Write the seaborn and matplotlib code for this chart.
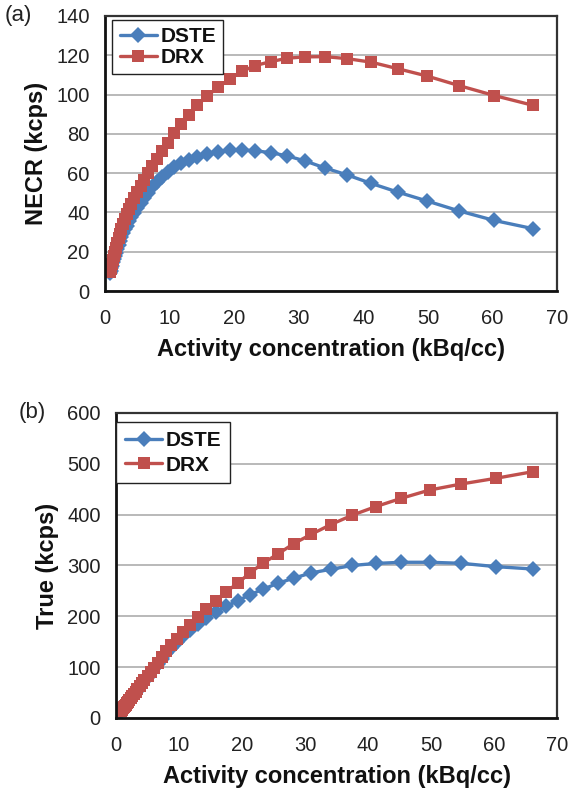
import numpy as np
import pandas as pd
import matplotlib
matplotlib.use("Agg")
import matplotlib.pyplot as plt
import seaborn as sns
from matplotlib.lines import Line2D

# Activity concentration of each acquisition frame (kBq/cc)
activity = [0.8, 0.9, 1.0, 1.1, 1.25, 1.4, 1.55, 1.7, 1.9, 2.1, 2.3, 2.55, 2.8,
            3.1, 3.4, 3.75, 4.1, 4.5, 5.0, 5.5, 6.0, 6.6, 7.3, 8.0, 8.8, 9.7,
            10.7, 11.8, 13.0, 14.3, 15.8, 17.5, 19.3, 21.2, 23.3, 25.7, 28.2,
            31.0, 34.1, 37.5, 41.2, 45.3, 49.8, 54.8, 60.3, 66.2]

# NECR (kcps)
necr_dste = [9.0, 10.3, 11.6, 12.8, 14.6, 16.3, 18.0, 19.6, 21.6, 23.5, 25.3,
             27.5, 29.5, 31.4, 33.2, 35.4, 37.5, 39.8, 42.5, 45.0, 47.3, 49.9,
             52.7, 55.3, 58.0, 60.5, 62.9, 65.0, 66.8, 68.4, 69.8, 70.9, 71.6,
             71.8, 71.4, 70.4, 68.8, 66.2, 62.6, 59.1, 54.8, 50.4, 45.9, 40.8,
             35.9, 31.8]
necr_drx = [9.5, 11.0, 12.5, 14.0, 16.0, 18.0, 20.0, 22.0, 24.5, 26.8, 29.0,
            31.6, 34.0, 36.5, 39.0, 41.8, 44.3, 47.2, 50.5, 53.6, 56.6, 60.0,
            63.8, 67.4, 71.3, 75.6, 80.2, 85.0, 89.8, 94.5, 99.2, 103.7, 107.8,
            111.8, 114.8, 116.8, 118.5, 119.2, 119.3, 118.3, 116.5, 113.2,
            109.5, 104.6, 99.5, 94.6]

# True coincidence rate (kcps)
true_dste = [14.0, 15.7, 17.4, 19.2, 21.7, 24.2, 26.6, 29.0, 31.8, 35.0, 38.5,
             42.5, 46.5, 51.3, 56.2, 61.8, 67.4, 73.8, 81.5, 89.5, 97.5, 106.5,
             117.0, 127.5, 138.5, 150.0, 161.0, 173.0, 185.5, 197.0, 208.0,
             219.5, 230.8, 242.0, 253.2, 265.0, 275.0, 285.5, 292.5, 300.0,
             304.0, 306.3, 306.3, 304.3, 297.7, 293.0]
true_drx = [13.8, 15.5, 17.2, 19.0, 21.5, 24.0, 26.5, 29.0, 32.0, 35.5, 39.0,
            43.0, 47.0, 52.0, 57.0, 63.0, 68.5, 75.0, 83.0, 91.0, 99.0, 108.5,
            120.5, 131.5, 143.5, 156.0, 169.0, 182.5, 198.0, 215.0, 231.0,
            248.5, 265.0, 284.7, 304.3, 322.6, 343.0, 361.4, 380.5, 399.0,
            415.7, 432.2, 448.5, 460.3, 471.5, 484.6]

methods = ["DSTE", "DRX"]
colors = {"DSTE": "#4A7EBB", "DRX": "#C0504D"}
markers = {"DSTE": "D", "DRX": "s"}
msize = {"DSTE": 8.5, "DRX": 8.5}

n = len(activity)
df = pd.DataFrame({
    "activity": activity * 2,
    "necr": necr_dste + necr_drx,
    "true": true_dste + true_drx,
    "method": ["DSTE"] * n + ["DRX"] * n,
})

sns.set_theme(style="white")
plt.rcParams["font.family"] = ["Liberation Sans", "DejaVu Sans"]

fig = plt.figure(figsize=(5.69, 7.96), dpi=100)
ax_a = fig.add_axes([0.1845, 0.6344, 0.7945, 0.3455])
ax_b = fig.add_axes([0.2039, 0.0980, 0.7751, 0.3832])


def draw(ax, ycol, ymax, ystep, ylabel, tag, tag_x, leg_anchor,
         leg_spacing, leg_pad):
    sns.lineplot(data=df, x="activity", y=ycol, hue="method", style="method",
                 hue_order=methods, style_order=methods, palette=colors,
                 markers=markers, dashes=False, linewidth=2.4, markersize=8.5,
                 markeredgewidth=0, sort=True, legend=False, ax=ax)
    ax.set_xlim(0, 70)
    ax.set_ylim(0, ymax)
    ax.set_xticks(np.arange(0, 71, 10))
    ax.set_yticks(np.arange(0, ymax + 1, ystep))
    ax.yaxis.grid(True, color="#A6A6A6", linewidth=1.1)
    ax.xaxis.grid(False)
    ax.set_axisbelow(True)
    ax.tick_params(axis="both", direction="in", length=5, width=1.5,
                   labelsize=14.5, colors="#222222")
    ax.tick_params(axis="x", pad=13)
    ax.tick_params(axis="y", pad=11)
    for side in ["left", "bottom"]:
        ax.spines[side].set_color("#111111")
        ax.spines[side].set_linewidth(2.0)
    for side in ["top", "right"]:
        ax.spines[side].set_color("#333333")
        ax.spines[side].set_linewidth(1.6)
    ax.set_xlabel("Activity concentration (kBq/cc)", fontsize=17,
                  fontweight="bold", labelpad=7, color="#111111")
    ax.set_ylabel(ylabel, fontsize=17, fontweight="bold", labelpad=6,
                  color="#111111")
    handles = [Line2D([], [], color=colors[m], marker=markers[m],
                      markersize=msize[m], linewidth=2.4,
                      markeredgewidth=0) for m in methods]
    leg = ax.legend(handles, methods, loc="upper left",
                    bbox_to_anchor=leg_anchor, frameon=True, fancybox=False,
                    edgecolor="#222222", framealpha=1, borderpad=leg_pad,
                    handlelength=1.8, handletextpad=0.15,
                    labelspacing=leg_spacing, borderaxespad=0,
                    prop={"weight": "bold", "size": 15})
    leg.get_frame().set_linewidth(1.0)
    for t in leg.get_texts():
        t.set_color("#111111")
    ax.text(tag_x, 1.0, tag, transform=ax.transAxes, fontsize=16,
            ha="left", va="center", color="#222222")


draw(ax_a, "necr", 140, 20, "NECR (kcps)", "(a)", -0.222,
     (0.016, 0.985), 0.08, 0.35)
draw(ax_b, "true", 600, 100, "True (kcps)", "(b)", -0.22,
     (0.0, 0.97), 0.28, 0.42)

fig.savefig("out.png", dpi=100)
